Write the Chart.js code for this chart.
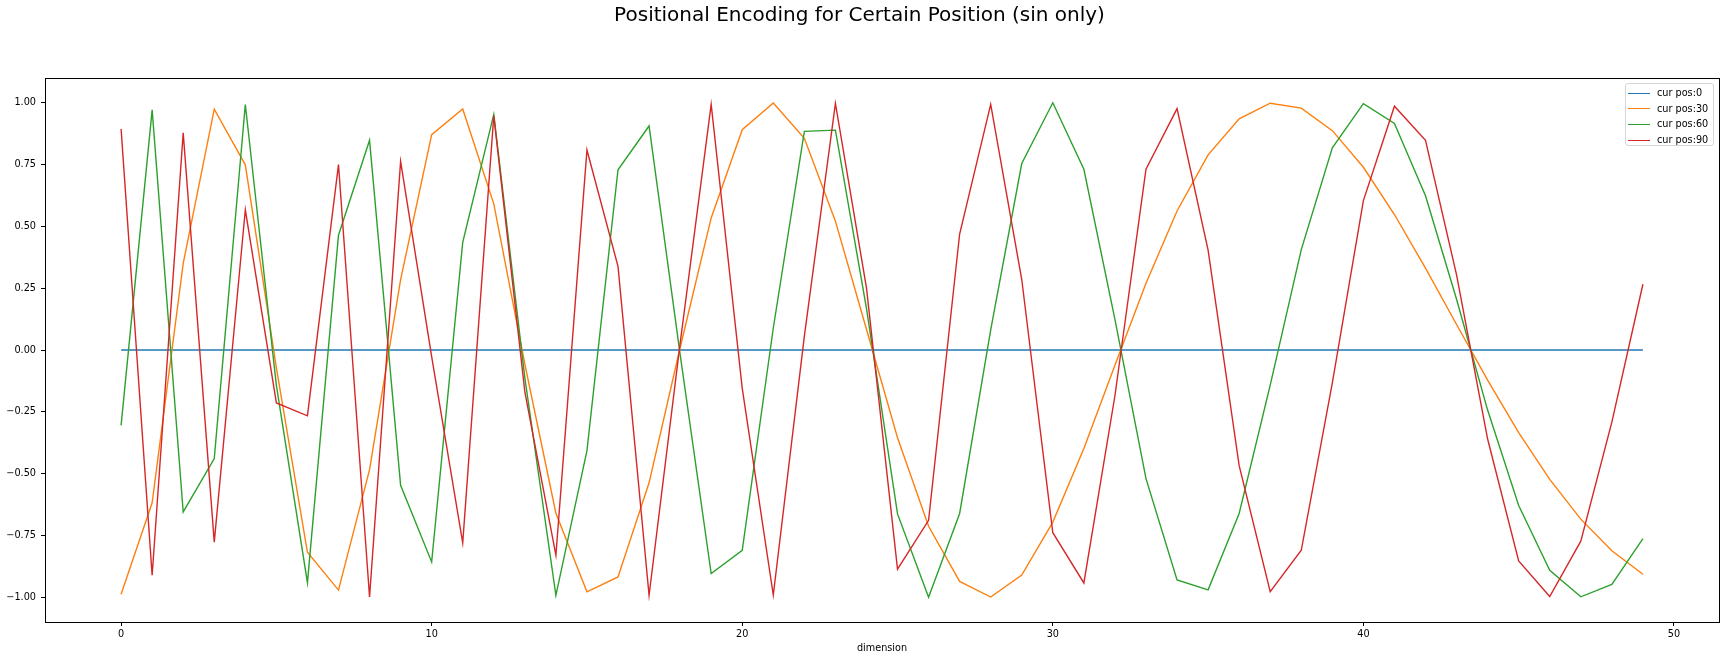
<!DOCTYPE html>
<html>
<head>
<meta charset="utf-8">
<script src="https://cdn.jsdelivr.net/npm/chart.js@4.4.1/dist/chart.umd.min.js"></script>
<style>
    html, body { margin: 0; padding: 0; background: #fff; }
    #wrap { position: relative; width: 1726px; height: 660px; }
    #leyenda {
        position: absolute; left: 1625px; top: 83px; width: 87px; height: 61px;
        border: 1px solid #d6d6d6; border-radius: 3px; background: rgba(255,255,255,0.8);
        font-family: 'DejaVu Sans', sans-serif; font-size: 9.7px; color: #000;
    }
    #leyenda div { position: absolute; left: 2px; height: 14px; line-height: 14px; white-space: nowrap; }
    #leyenda span.linea { display: inline-block; width: 22px; height: 0; border-top: 1.5px solid; vertical-align: middle; margin-right: 7px; }
</style>
</head>
<body>
<div id="wrap">
    <canvas id="chart" width="1726" height="660"></canvas>
    <div id="leyenda"></div>
</div>
<script>
// dimensiones 0..49
let dimensiones = [];
for (let i = 0; i < 50; i++) dimensiones.push(i);

let nombres = ['cur pos:0', 'cur pos:30', 'cur pos:60', 'cur pos:90'];
let colores = ['#1f77b4', '#ff7f0e', '#2ca02c', '#d62728'];

let pos0 = [0, 0, 0, 0, 0, 0, 0, 0, 0, 0, 0, 0, 0, 0, 0, 0, 0, 0, 0, 0, 0, 0, 0, 0, 0,
    0, 0, 0, 0, 0, 0, 0, 0, 0, 0, 0, 0, 0, 0, 0, 0, 0, 0, 0, 0, 0, 0, 0, 0, 0];

let pos30 = [-0.988, -0.618, 0.350, 0.974, 0.749, -0.072, -0.818, -0.971, -0.484, 0.285,
    0.871, 0.975, 0.591, -0.057, -0.660, -0.978, -0.918, -0.537, 0.009, 0.534,
    0.891, 0.999, 0.856, 0.521, 0.084, -0.355, -0.713, -0.936, -0.999, -0.910,
    -0.696, -0.398, -0.062, 0.270, 0.562, 0.789, 0.935, 0.998, 0.978, 0.887,
    0.739, 0.548, 0.331, 0.103, -0.122, -0.334, -0.523, -0.684, -0.812, -0.907];

let pos60 = [-0.305, 0.971, -0.655, -0.439, 0.993, -0.143, -0.941, 0.464, 0.848, -0.547,
    -0.857, 0.435, 0.953, -0.113, -0.992, -0.407, 0.729, 0.906, -0.018, -0.904,
    -0.810, 0.089, 0.884, 0.889, 0.168, -0.663, -1.000, -0.661, 0.081, 0.754,
    1.000, 0.731, 0.124, -0.520, -0.930, -0.970, -0.661, -0.142, 0.406, 0.818,
    0.996, 0.916, 0.624, 0.205, -0.243, -0.629, -0.891, -0.998, -0.948, -0.763];

let pos90 = [0.894, -0.911, 0.878, -0.777, 0.567, -0.214, -0.266, 0.750, -0.999, 0.763,
    -0.027, -0.780, 0.948, -0.169, -0.830, 0.809, 0.338, -0.992, 0.027, 0.993,
    -0.155, -0.991, 0.056, 0.997, 0.251, -0.886, -0.689, 0.469, 0.993, 0.285,
    -0.739, -0.942, -0.185, 0.731, 0.976, 0.404, -0.468, -0.977, -0.810, -0.133,
    0.604, 0.986, 0.848, 0.304, -0.360, -0.853, -0.997, -0.773, -0.292, 0.266];

let series = [pos0, pos30, pos60, pos90];

let ticksX = [0, 10, 20, 30, 40, 50];
let ticksY = [-1.00, -0.75, -0.50, -0.25, 0.00, 0.25, 0.50, 0.75, 1.00];

let fuente = 'DejaVu Sans';

// leyenda en html, como la caja de matplotlib
let leyenda = document.getElementById('leyenda');
nombres.forEach(function (nombre, i) {
    let fila = document.createElement('div');
    fila.style.top = (2 + i * 15.7) + 'px';
    let linea = document.createElement('span');
    linea.className = 'linea';
    linea.style.borderColor = colores[i];
    fila.append(linea);
    fila.append(document.createTextNode(nombre));
    leyenda.append(fila);
});

// marco completo alrededor del area de dibujo
let marco = {
    id: 'marco',
    afterDatasetsDraw: function (chart) {
        let a = chart.chartArea;
        let ctx = chart.ctx;
        ctx.save();
        ctx.strokeStyle = '#000';
        ctx.lineWidth = 1;
        ctx.strokeRect(Math.round(a.left) + 0.5, Math.round(a.top) + 0.5,
            Math.round(a.right - a.left), Math.round(a.bottom - a.top));
        ctx.restore();
    }
};

let datasets = series.map(function (valores, i) {
    return {
        label: nombres[i],
        data: valores.map(function (v, j) { return { x: dimensiones[j], y: v }; }),
        borderColor: colores[i],
        backgroundColor: colores[i],
        borderWidth: 1.4,
        pointRadius: 0,
        tension: 0,
        order: 3 - i
    };
});

let ctx = document.getElementById('chart');

let miGrafica = new Chart(ctx, {
    type: 'line',
    data: { datasets: datasets },
    plugins: [marco],
    options: {
        responsive: false,
        animation: false,
        devicePixelRatio: 1,
        layout: { padding: { left: 0, right: 7, top: 0, bottom: 0 } },
        plugins: {
            legend: { display: false },
            tooltip: { enabled: false },
            title: {
                display: true,
                text: 'Positional Encoding for Certain Position (sin only)',
                color: '#000',
                font: { family: fuente, size: 20, weight: 'normal' },
                padding: { top: 4, bottom: 50 }
            }
        },
        scales: {
            x: {
                type: 'linear',
                min: -2.45,
                max: 51.45,
                afterBuildTicks: function (scale) {
                    scale.ticks = ticksX.map(function (v) { return { value: v }; });
                },
                afterFit: function (scale) { scale.height = 38; },
                grid: { display: true, drawOnChartArea: false, drawTicks: true, tickLength: 4, color: '#000' },
                border: { display: false },
                ticks: {
                    color: '#000', padding: 3, maxRotation: 0,
                    font: { family: fuente, size: 9.7 },
                    callback: function (v) { return String(v); }
                },
                title: {
                    display: true, text: 'dimension', color: '#000',
                    font: { family: fuente, size: 9.7 },
                    padding: { top: 0, bottom: 6 }
                }
            },
            y: {
                type: 'linear',
                min: -1.1,
                max: 1.1,
                afterBuildTicks: function (scale) {
                    scale.ticks = ticksY.map(function (v) { return { value: v }; });
                },
                afterFit: function (scale) { scale.width = 45; },
                grid: { display: true, drawOnChartArea: false, drawTicks: true, tickLength: 4, color: '#000' },
                border: { display: false },
                ticks: {
                    color: '#000', padding: 5,
                    font: { family: fuente, size: 9.7 },
                    callback: function (v) { return v.toFixed(2).replace('-', '\u2212'); }
                }
            }
        }
    }
});
</script>
</body>
</html>
